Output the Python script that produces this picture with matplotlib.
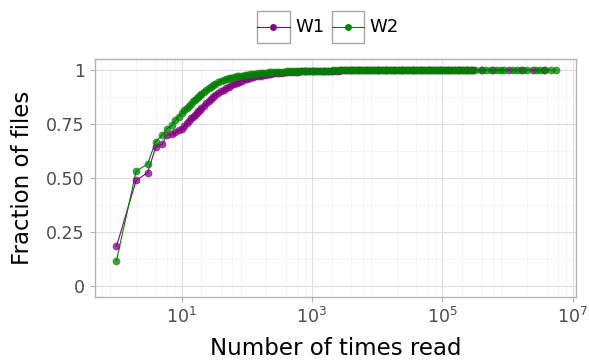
import numpy as np
import matplotlib
matplotlib.use("Agg")
import matplotlib.pyplot as plt
from matplotlib.ticker import FixedLocator, LogFormatterMathtext, NullFormatter
from matplotlib.lines import Line2D
from matplotlib.patches import Rectangle

# cumulative fraction of files vs. number of times each file was read
series_names = ["W1", "W2"]
series_colors = ["#800080", "#008000"]

counts = [1, 2, 3, 4, 5, 6, 7, 8, 9, 10, 11, 12, 13, 14, 15, 16, 17, 18, 19, 20,
          22, 24, 26, 28, 30, 33, 36, 40, 44, 48, 53, 58, 64, 70, 77, 85, 93,
          102, 112, 123, 135, 148, 163, 179, 197, 216, 238, 261, 287, 316, 347,
          382, 420, 462, 508, 559, 615, 676, 744, 818, 900, 990, 1090, 1200,
          1320, 1450, 1600, 1760, 1930, 2130, 2340, 2570, 2830, 3110, 3420,
          3770, 4140, 4560, 5010, 5510, 6070, 6670, 7340, 8080, 8880, 9770,
          10700, 11800, 13000, 14300, 15700, 17300, 19000, 20900, 23000, 25300,
          27800, 30600, 33700, 37100, 40800, 44800, 49300, 54300, 59700, 65700,
          72200, 79500, 87400, 96100, 106000, 117000, 128000, 141000, 155000,
          171000, 188000, 207000, 228000, 251000, 276000]

w1_frac = [0.185, 0.490, 0.526, 0.644, 0.657, 0.700, 0.703, 0.713, 0.722, 0.730,
           0.743, 0.755, 0.766, 0.777, 0.785, 0.793, 0.801, 0.809, 0.816, 0.823,
           0.835, 0.846, 0.856, 0.866, 0.875, 0.886, 0.895, 0.903, 0.910, 0.916,
           0.923, 0.929, 0.935, 0.941, 0.947, 0.952, 0.957, 0.961, 0.965, 0.968,
           0.971, 0.973, 0.975, 0.977, 0.979, 0.981, 0.983, 0.985, 0.986, 0.987,
           0.988, 0.989, 0.990, 0.991, 0.992, 0.992, 0.993, 0.994, 0.994, 0.995,
           0.995, 0.996, 0.996, 0.996, 0.997, 0.997, 0.997, 0.998, 0.998, 0.998,
           0.998, 0.998, 0.999, 0.999, 0.999, 0.999, 0.999, 0.999, 0.999, 0.999,
           0.999, 0.999, 0.999, 0.999, 0.999, 0.999, 0.999, 0.999, 0.999, 0.999,
           0.999, 0.999, 0.999, 0.999, 0.999, 0.999, 0.999, 1.000, 1.000, 1.000,
           1.000, 1.000, 1.000, 1.000, 1.000, 1.000, 1.000, 1.000, 1.000, 1.000,
           1.000, 1.000, 1.000, 1.000, 1.000, 1.000, 1.000, 1.000, 1.000, 1.000,
           1.000]

w2_frac = [0.119, 0.532, 0.566, 0.670, 0.700, 0.730, 0.745, 0.769, 0.785, 0.800,
           0.815, 0.826, 0.836, 0.845, 0.855, 0.864, 0.871, 0.878, 0.884, 0.890,
           0.900, 0.909, 0.917, 0.924, 0.930, 0.937, 0.943, 0.949, 0.954, 0.958,
           0.962, 0.965, 0.968, 0.971, 0.973, 0.975, 0.977, 0.979, 0.981, 0.983,
           0.984, 0.985, 0.986, 0.987, 0.988, 0.989, 0.990, 0.991, 0.991, 0.992,
           0.993, 0.993, 0.994, 0.994, 0.995, 0.995, 0.995, 0.996, 0.996, 0.996,
           0.997, 0.997, 0.997, 0.997, 0.998, 0.998, 0.998, 0.998, 0.998, 0.999,
           0.999, 0.999, 0.999, 0.999, 0.999, 0.999, 0.999, 0.999, 0.999, 0.999,
           0.999, 0.999, 1.000, 1.000, 1.000, 1.000, 1.000, 1.000, 1.000, 1.000,
           1.000, 1.000, 1.000, 1.000, 1.000, 1.000, 1.000, 1.000, 1.000, 1.000,
           1.000, 1.000, 1.000, 1.000, 1.000, 1.000, 1.000, 1.000, 1.000, 1.000,
           1.000, 1.000, 1.000, 1.000, 1.000, 1.000, 1.000, 1.000, 1.000, 1.000,
           1.000]

# sparse tail of very frequently read files
w1_tail_counts = [300000, 400000, 590000, 1070000, 1600000, 2500000, 3600000]
w1_tail_frac = [1.0, 1.0, 1.0, 1.0, 1.0, 1.0, 1.0]
w2_tail_counts = [320000, 385000, 460000, 550000, 680000, 780000, 890000,
                  1230000, 1410000, 1700000, 2000000, 2700000, 3200000,
                  3800000, 4600000, 5500000]
w2_tail_frac = [1.0] * 16

xs = [counts + w1_tail_counts, counts + w2_tail_counts]
ys = [w1_frac + w1_tail_frac, w2_frac + w2_tail_frac]

W, H = 589, 361
fig = plt.figure(figsize=(W / 100, H / 100), dpi=100)
ax = fig.add_axes([94.7 / W, 1 - 297.3 / H, (576 - 94.7) / W, (297.3 - 59.3) / H])

for x, y, c in zip(xs, ys, series_colors):
    ax.plot(x, y, color=c, lw=0.8, zorder=3)
    ax.plot(x, y, ls="none", marker="o", ms=5.6, mfc=c, mec="none",
            alpha=0.75, zorder=4)

ax.set_xscale("log")
ax.set_xlim(10 ** -0.334, 10 ** 7.05)
ax.set_ylim(-0.05, 1.05)

ax.xaxis.set_major_locator(FixedLocator([1e1, 1e3, 1e5, 1e7]))
ax.xaxis.set_major_formatter(LogFormatterMathtext())
minor_x = [m * 10.0 ** k for k in range(-1, 8) for m in (2, 4, 6, 8)]
ax.xaxis.set_minor_locator(FixedLocator(minor_x))
ax.xaxis.set_minor_formatter(NullFormatter())

ax.set_yticks([0, 0.25, 0.5, 0.75, 1])
ax.set_yticklabels(["0", "0.25", "0.50", "0.75", "1"])
ax.set_yticks([0.125, 0.375, 0.625, 0.875], minor=True)

ax.grid(which="major", color="#dedede", lw=0.8, zorder=0)
ax.grid(which="minor", color="#f0f0f0", lw=0.5, zorder=0)
ax.set_axisbelow(True)

for s in ax.spines.values():
    s.set_color("#b3b3b3")
    s.set_linewidth(1.0)

ax.tick_params(which="major", length=3.6, width=0.8, color="#b3b3b3",
               labelcolor="#4d4d4d", labelsize=12.5, pad=3.5)
ax.tick_params(which="minor", length=0)

ax.set_xlabel("Number of times read", fontsize=16.5, labelpad=7)
ax.set_ylabel("Fraction of files", fontsize=16.5, labelpad=9)

# legend keys drawn as boxed swatches across the top
key_boxes = [(256.7, 11, 33.3, 32.3), (331.7, 11, 32.6, 32.3)]
for (bx, by, bw, bh), name, c in zip(key_boxes, series_names, series_colors):
    fig.add_artist(Rectangle((bx / W, 1 - (by + bh) / H), bw / W, bh / H,
                             transform=fig.transFigure, fill=False,
                             ec="#a6a6a6", lw=1.0))
    yl = 1 - (by + bh / 2) / H
    fig.add_artist(Line2D([bx / W, (bx + bw) / W], [yl, yl],
                          transform=fig.transFigure, color=c, lw=0.8))
    fig.add_artist(Line2D([(bx + bw / 2) / W], [yl], transform=fig.transFigure,
                          ls="none", marker="o", ms=5.0, mfc=c, mec="none"))
    fig.text((bx + bw + 5) / W, yl, name, fontsize=13, va="center",
             ha="left", color="black")

fig.savefig("out.png", dpi=100)
